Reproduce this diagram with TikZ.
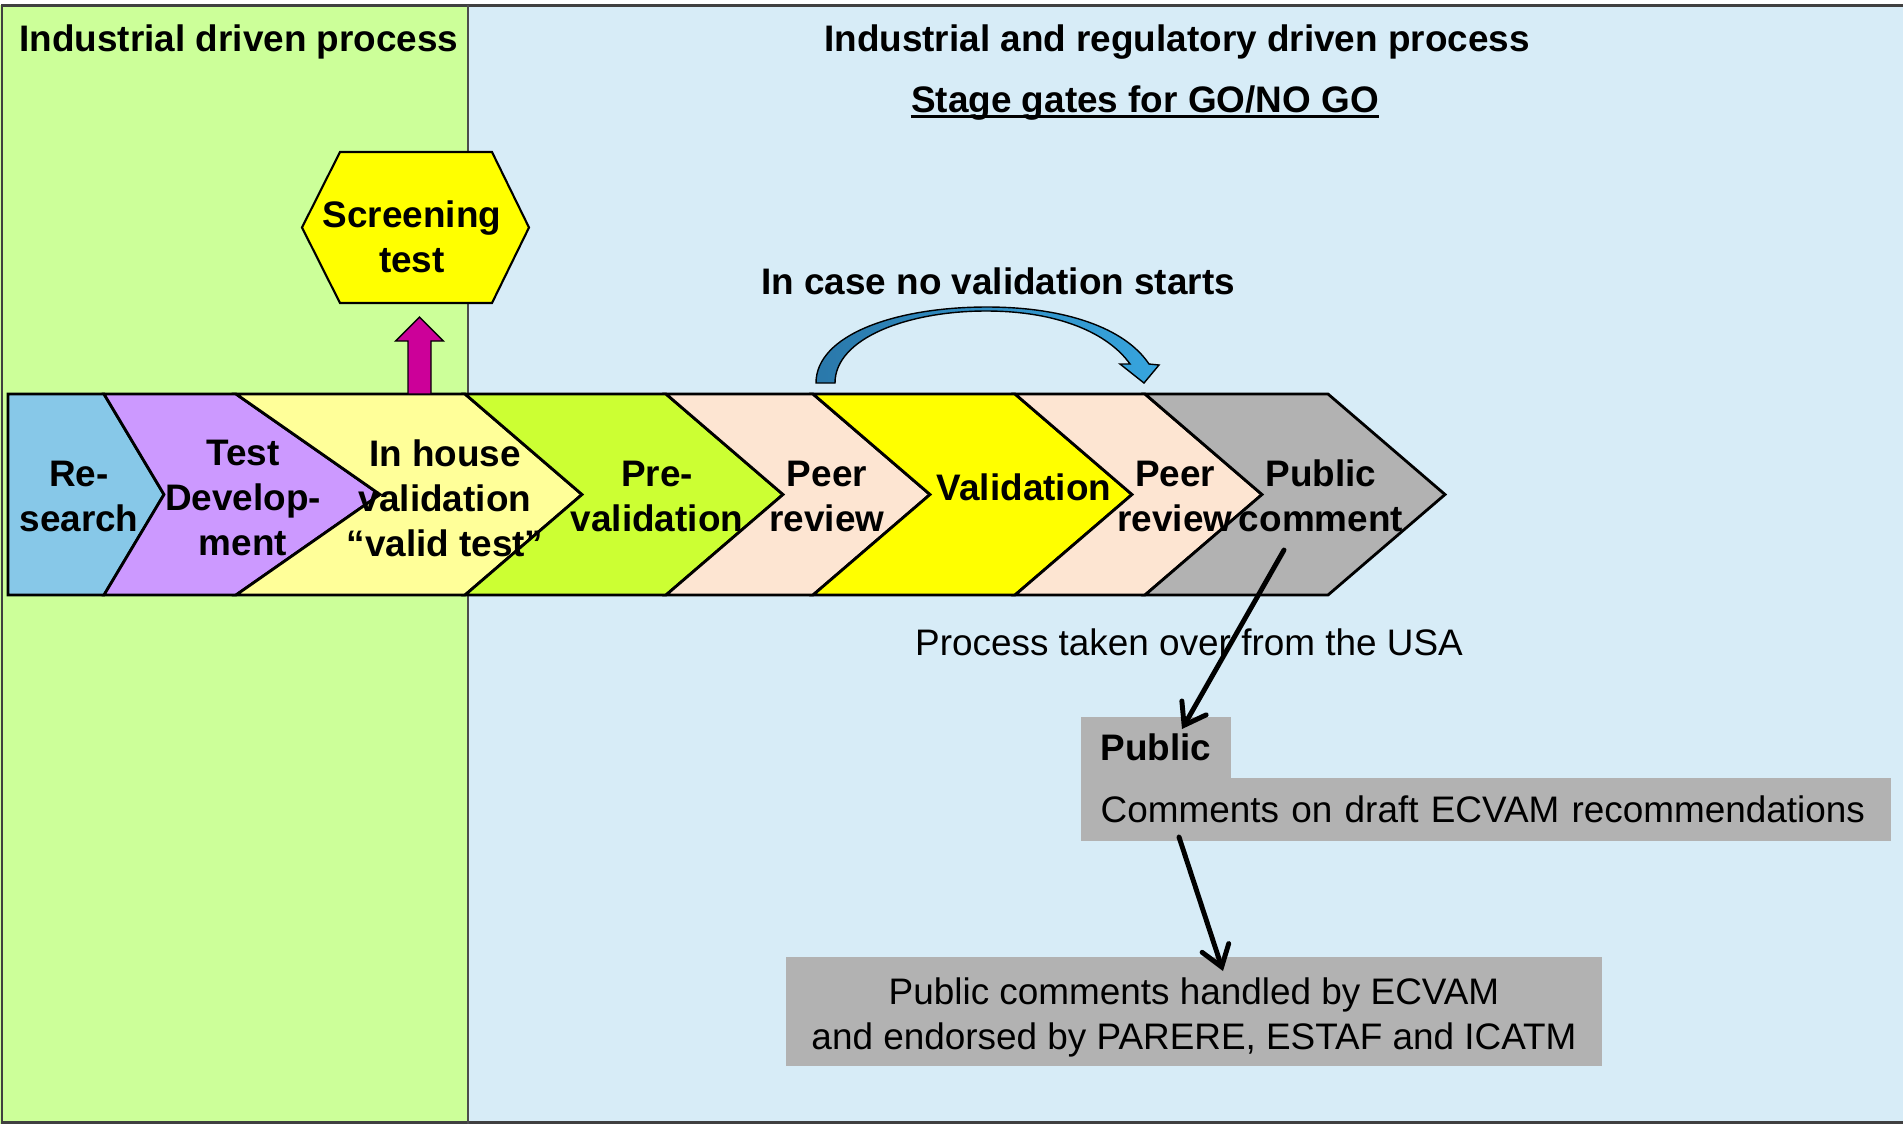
\documentclass[tikz,border=0pt]{standalone}
\usepackage{fontspec}
\setmainfont{Liberation Sans}
\usetikzlibrary{arrows.meta,calc}

\definecolor{cIndustry}{RGB}{204,255,153}
\definecolor{cRegulatory}{RGB}{215,236,247}
\definecolor{cResearch}{RGB}{135,200,232}
\definecolor{cTestDev}{RGB}{204,153,255}
\definecolor{cInHouse}{RGB}{255,255,153}
\definecolor{cPreVal}{RGB}{204,255,51}
\definecolor{cPeer}{RGB}{253,229,210}
\definecolor{cValid}{RGB}{255,255,0}
\definecolor{cPublic}{RGB}{178,178,178}
\definecolor{cUpArrow}{RGB}{204,0,153}
\definecolor{cArcDark}{RGB}{42,120,170}
\definecolor{cArcLight}{RGB}{55,165,222}

\begin{document}
\begin{tikzpicture}[
            x=0.1mm, y=-0.1mm,
            every node/.style={font=\fontsize{10.5}{12.8}\selectfont, inner sep=0pt},
            title/.style={font=\fontsize{10.5}{12.8}\selectfont\bfseries},
            chev/.style={draw, line width=0.8pt, line join=miter},
            chevtext/.style={align=center, font=\fontsize{10.5}{12.8}\selectfont\bfseries},
            graybox/.style={fill=cPublic, inner xsep=2mm},
            uparrow/.style={draw, fill=cUpArrow, line width=0.4pt},
            skiparrow/.style={draw, line width=0.4pt, left color=cArcDark, right color=cArcLight},
            blackarrow/.style={draw, line width=1.4pt, line cap=round,
                -{Straight Barb[length=2mm,width=2.8mm,line cap=round]}}]

            \useasboundingbox (0,0) rectangle (1903,1124);

            % two panels
            \fill[white] (0,0) rectangle (1903,1124);
            \fill[cIndustry] (0,5) rectangle (468,1124);
            \fill[cRegulatory] (468,5) rectangle (1903,1124);
            \draw[black!75, line width=0.3mm] (1903,5) -- (2,5) -- (2,1122) -- (1903,1122);
            \draw[black!70, line width=0.2mm] (468,5) -- (468,1124);

            \node[title, anchor=base] (lefttitle) at (239,51) {Industrial driven process};
            \node[title, anchor=base] (righttitle) at (1177,51) {Industrial and regulatory driven process};
            \node[title, anchor=base] (gates) at (1145,112) {Stage gates for GO/NO GO};
            \draw[line width=0.9pt] ([yshift=-1.3pt]gates.base west) -- ([yshift=-1.3pt]gates.base east);

            % the process band
            \foreach \xa/\xb/\na/\nb/\col in {8/104/0/60/cResearch, 104/236/60/144/cTestDev,
                    236/465/144/117/cInHouse, 465/666/117/117/cPreVal, 666/813/117/117/cPeer,
                    813/1015/117/117/cValid, 1015/1145/117/117/cPeer, 1145/1328/117/117/cPublic}{
                \draw[chev, fill=\col] (\xa,394) -- (\xb,394) -- ({\xb+\nb},494.5) -- (\xb,595)
                    -- (\xa,595) -- ({\xa+\na},494.5) -- cycle;
            }

            \node[chevtext] (research) at (79,496) {Re-\\search};
            \node[chevtext] (testdev) at (243,498) {Test\\Develop-\\ment};
            \node[chevtext] (inhouse) at (445,498) {In house\\validation\\“valid test”};
            \node[chevtext] (preval) at (657,496) {Pre-\\validation};
            \node[chevtext] (peerone) at (827,496) {Peer\\review};
            \node[chevtext] (valid) at (1024,487) {Validation};
            \node[chevtext] (peertwo) at (1175,496) {Peer\\review};
            \node[chevtext] (pubcom) at (1321,496) {Public\\comment};

            % screening test
            \draw[fill=cValid, line width=0.6pt] (340,152) -- (492,152) -- (529,227.5) -- (492,303)
                -- (340,303) -- (302,227.5) -- cycle;
            \node[chevtext] (screen) at (412,237) {Screening\\test};

            \coordinate (upfoot) at (419.5,394);
            \coordinate (uptip) at (419.5,317);
            \draw[uparrow] ($(upfoot)+(-11.5,0)$) -- ($(uptip)+(-11.5,24)$) -- ($(uptip)+(-24,24)$)
                -- (uptip) -- ($(uptip)+(24,24)$) -- ($(uptip)+(11.5,24)$) -- ($(upfoot)+(11.5,0)$) -- cycle;

            % skip of the validation
            \node[title] (nocase) at (998,281) {In case no validation starts};
            \draw[skiparrow] (816,383) .. controls (816,335) and (895,307) .. (987,307)
                .. controls (1065,307) and (1125,328) .. (1149,364) -- (1159,365) -- (1144,383)
                -- (1120,364) -- (1130,364) .. controls (1108,333) and (1058,311) .. (986,311)
                .. controls (908,311) and (835,338) .. (835,383) -- cycle;

            % public comments
            \node (takeover) at (1189,642) {Process taken over from the USA};
            \node[graybox, minimum height=6.1mm, anchor=north west] (pubtab) at (1080,716) {\bfseries Public};
            \node[graybox, text width=77mm, align=left, minimum height=6.3mm, anchor=north west] (pubbox) at (1080,777)
                {Comments on draft ECVAM recommendations};
            \node[graybox, minimum width=81.6mm, minimum height=10.9mm, align=center] (handled) at (1194,1011.5)
                {\rule{0pt}{3.9mm}Public comments handled by ECVAM\\and endorsed by PARERE, ESTAF and ICATM};

            \coordinate (pubcom-out) at (1284,550);
            \coordinate (pubtab-in) at (1182,729);
            \coordinate (pubbox-out) at (1179,837);
            \coordinate (handled-in) at (1223,971);
            \draw[blackarrow] (pubcom-out) -- (pubtab-in);
            \draw[blackarrow] (pubbox-out) -- (handled-in);
        \end{tikzpicture}
\end{document}
